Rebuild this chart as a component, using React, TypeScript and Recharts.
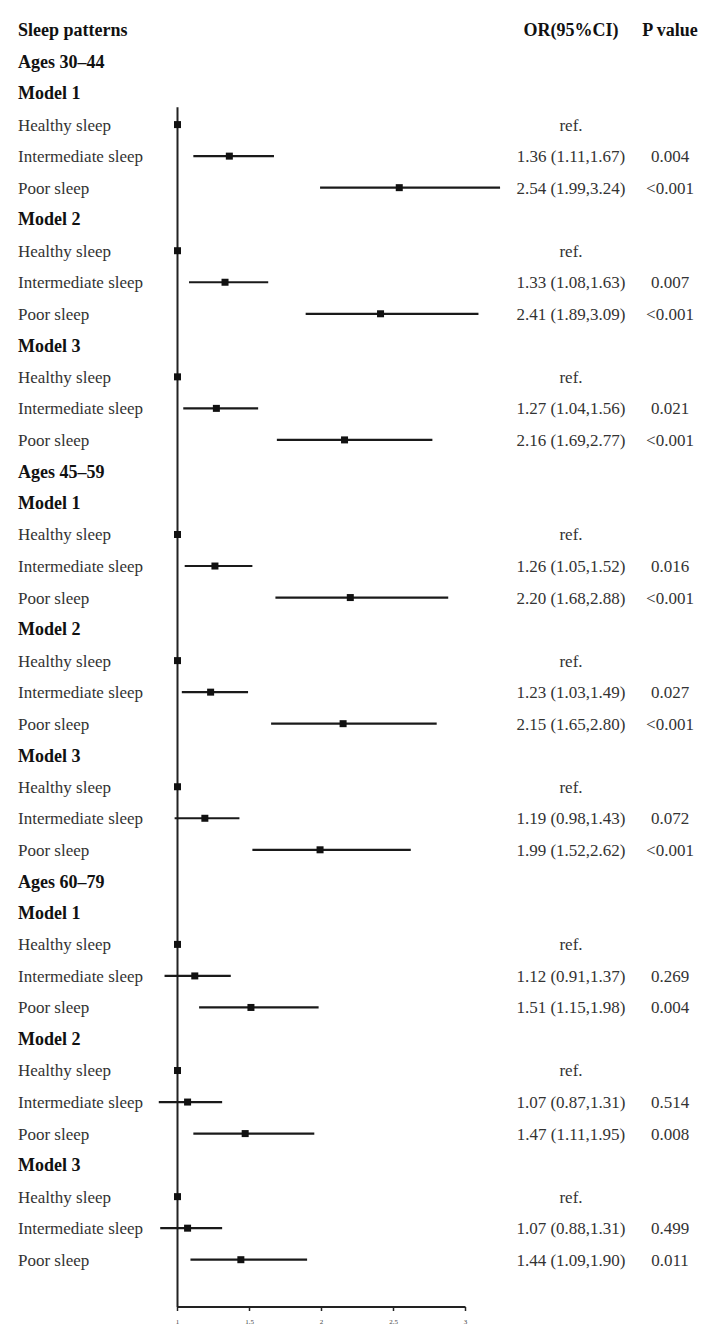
import { ScatterChart, Scatter, XAxis, YAxis, ErrorBar, ReferenceLine } from 'recharts'

const groups = ['Ages 30–44', 'Ages 45–59', 'Ages 60–79']
const models = ['Model 1', 'Model 2', 'Model 3']
const categories = ['Healthy sleep', 'Intermediate sleep', 'Poor sleep']

// intermediate, poor per model (groups x models, flattened)
const orEst = [1.36, 2.54, 1.33, 2.41, 1.27, 2.16, 1.26, 2.20, 1.23, 2.15, 1.19, 1.99, 1.12, 1.51, 1.07, 1.47, 1.07, 1.44]
const ciLow = [1.11, 1.99, 1.08, 1.89, 1.04, 1.69, 1.05, 1.68, 1.03, 1.65, 0.98, 1.52, 0.91, 1.15, 0.87, 1.11, 0.88, 1.09]
const ciHigh = [1.67, 3.24, 1.63, 3.09, 1.56, 2.77, 1.52, 2.88, 1.49, 2.80, 1.43, 2.62, 1.37, 1.98, 1.31, 1.95, 1.31, 1.90]
const pValues = ['0.004', '<0.001', '0.007', '<0.001', '0.021', '<0.001', '0.016', '<0.001', '0.027', '<0.001', '0.072', '<0.001', '0.269', '0.004', '0.514', '0.008', '0.499', '0.011']
const xTicks = [1, 1.5, 2, 2.5, 3]

type Row = { label: string; bold: boolean; orText: string; pText: string }

const rows: Row[] = [{ label: 'Sleep patterns', bold: true, orText: 'OR(95%CI)', pText: 'P value' }]
const points: { x: number; row: number; err: number[] }[] = []
let k = 0
groups.forEach((g) => {
  rows.push({ label: g, bold: true, orText: '', pText: '' })
  models.forEach((m) => {
    rows.push({ label: m, bold: true, orText: '', pText: '' })
    categories.forEach((c, ci) => {
      if (ci === 0) {
        points.push({ x: 1, row: rows.length, err: [0, 0] })
        rows.push({ label: c, bold: false, orText: 'ref.', pText: '' })
      } else {
        const o = orEst[k], lo = ciLow[k], hi = ciHigh[k]
        points.push({ x: o, row: rows.length, err: [o - lo, hi - o] })
        rows.push({ label: c, bold: false, orText: `${o.toFixed(2)} (${lo.toFixed(2)},${hi.toFixed(2)})`, pText: pValues[k] })
        k++
      }
    })
  })
})

const rowTicks = rows.map((_, i) => i)
const font = '"Liberation Serif", "Times New Roman", serif'

function LeftTick(props: any) {
  const r = rows[props.payload.value]
  if (!r) return null
  return (
    <text x={10} y={props.y} dy="0.35em" fontFamily={font} fontSize={r.bold ? 18 : 17}
      fontWeight={r.bold ? 700 : 400} fill={r.bold ? '#111' : '#333'}>{r.label}</text>
  )
}

function RightTick(props: any) {
  const r = rows[props.payload.value]
  if (!r) return null
  const w = r.bold ? 700 : 400
  const fs = r.bold ? 18 : 17
  const fill = r.bold ? '#111' : '#333'
  return (
    <g>
      <text x={563} y={props.y} dy="0.35em" textAnchor="middle" fontFamily={font} fontSize={fs} fontWeight={w} fill={fill}>{r.orText}</text>
      <text x={662} y={props.y} dy="0.35em" textAnchor="middle" fontFamily={font} fontSize={fs} fontWeight={w} fill={fill}>{r.pText}</text>
    </g>
  )
}

const Square = (p: any) => <rect x={p.cx - 3.5} y={p.cy - 3.5} width={7} height={7} fill="#111" />

export default function App() {
  return (
    <ScatterChart width={698} height={1326} margin={{ top: 22, right: 0, bottom: 0, left: 0 }}>
      <XAxis type="number" dataKey="x" domain={[0.7, 3.4]} allowDataOverflow ticks={xTicks} interval={0}
        axisLine={false} tickLine={{ stroke: '#222', strokeWidth: 1.5 }} tickSize={4} tickMargin={8}
        height={27} tick={{ fontSize: 7, fill: '#444', fontFamily: font }} />
      <YAxis type="number" dataKey="row" domain={[0, 40.5]} allowDataOverflow reversed ticks={rowTicks}
        interval={0} axisLine={false} tickLine={false} width={126.3} tick={<LeftTick />} />
      <YAxis yAxisId="r" orientation="right" type="number" domain={[0, 40.5]} allowDataOverflow reversed
        ticks={rowTicks} interval={0} axisLine={false} tickLine={false} width={182.9} tick={<RightTick />} />
      <ReferenceLine segment={[{ x: 1, y: 2.45 }, { x: 1, y: 40.5 }]} stroke="#222" strokeWidth={2} />
      <ReferenceLine segment={[{ x: 1, y: 40.5 }, { x: 3, y: 40.5 }]} stroke="#222" strokeWidth={2} />
      <Scatter data={points} shape={<Square />} isAnimationActive={false}>
        <ErrorBar dataKey="err" direction="x" width={0} stroke="#1a1a1a" strokeWidth={2.2} />
      </Scatter>
    </ScatterChart>
  )
}
